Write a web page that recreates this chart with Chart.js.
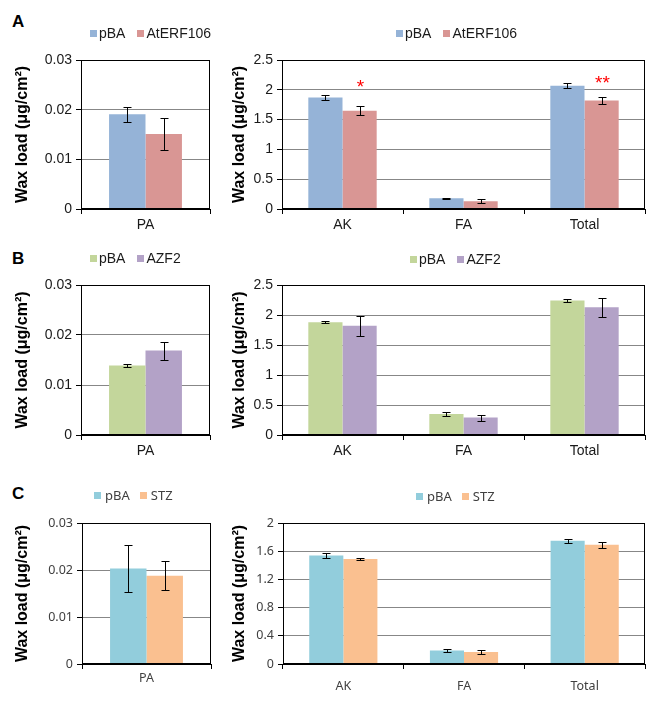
<!DOCTYPE html>
<html lang="en">
<head>
<meta charset="UTF-8">
<title>Wax load</title>
<style>
    body { margin: 0; background: #fff; }
    #page { position: relative; width: 660px; height: 701px; background: #fff; }
    .box { position: absolute; }
    .tag { position: absolute; left: 12px; font: bold 17px "Liberation Sans", Arial, sans-serif; color: #000; line-height: 17px; }
    .legend { position: absolute; display: flex; align-items: center; height: 16px; line-height: 16px; transform: translateY(-50%); white-space: nowrap; }
    .legend .item { display: flex; align-items: center; }
    .legend .swatch { display: inline-block; width: 7px; height: 7px; }
</style>
</head>
<body>
<div id="page">
    <div class="tag" style="top: 13px;">A</div>
    <div class="tag" style="top: 250px;">B</div>
    <div class="tag" style="top: 485px;">C</div>

    <div class="box" style="left: 0; top: 0;"><canvas id="aLeft" width="215" height="240"></canvas></div>
    <div class="box" style="left: 215px; top: 0;"><canvas id="aRight" width="445" height="240"></canvas></div>
    <div class="box" style="left: 0; top: 230px;"><canvas id="bLeft" width="215" height="235"></canvas></div>
    <div class="box" style="left: 215px; top: 230px;"><canvas id="bRight" width="445" height="235"></canvas></div>
    <div class="box" style="left: 0; top: 465px;"><canvas id="cLeft" width="215" height="236"></canvas></div>
    <div class="box" style="left: 215px; top: 465px;"><canvas id="cRight" width="445" height="236"></canvas></div>
</div>

<script src="https://cdn.jsdelivr.net/npm/chart.js"></script>
<script>
    // categories
    const paLabels = ['PA'];
    const waxLabels = ['AK', 'FA', 'Total'];

    // A: pBA vs AtERF106
    const aPbaPA = [0.0191];
    const aPbaPAErr = [0.0015];
    const aErfPA = [0.0151];
    const aErfPAErr = [0.0033];
    const aPba = [1.87, 0.18, 2.07];
    const aPbaErr = [0.04, 0.01, 0.045];
    const aErf = [1.65, 0.13, 1.82];
    const aErfErr = [0.08, 0.03, 0.065];
    const aErfStars = ['*', '', '**'];
    const aErfStarLevel = [2.13, 0, 2.2];   // where the stars sit, in y units

    // B: pBA vs AZF2
    const bPbaPA = [0.0139];
    const bPbaPAErr = [0.0003];
    const bAzfPA = [0.0169];
    const bAzfPAErr = [0.0018];
    const bPba = [1.88, 0.35, 2.24];
    const bPbaErr = [0.02, 0.03, 0.03];
    const bAzf = [1.82, 0.29, 2.13];
    const bAzfErr = [0.17, 0.05, 0.16];

    // C: pBA vs STZ
    const cPbaPA = [0.0203];
    const cPbaPAErr = [0.005];
    const cStzPA = [0.0188];
    const cStzPAErr = [0.0031];
    const cPba = [1.54, 0.19, 1.75];
    const cPbaErr = [0.03, 0.02, 0.03];
    const cStz = [1.49, 0.17, 1.69];
    const cStzErr = [0.02, 0.03, 0.04];

    // y axis ticks
    const paTicks = [0, 0.01, 0.02, 0.03];
    const abTicks = [0, 0.5, 1, 1.5, 2, 2.5];
    const cTicks = [0, 0.4, 0.8, 1.2, 1.6, 2];

    const arial = '"Liberation Sans", Arial, sans-serif';
    const malgun = '"Noto Sans", "Open Sans", sans-serif';

    // error bars + significance stars, drawn from the y scale
    const errorBars = {
        id: 'errorBars',
        afterDatasetsDraw(chart) {
            const ctx = chart.ctx;
            const y = chart.scales.y;
            chart.data.datasets.forEach((ds, i) => {
                chart.getDatasetMeta(i).data.forEach((bar, j) => {
                    const v = ds.data[j];
                    const e = ds.errors[j];
                    const x = Math.round(bar.x) + 0.5;
                    const top = Math.round(y.getPixelForValue(v + e)) + 0.5;
                    const bot = Math.round(y.getPixelForValue(v - e)) + 0.5;
                    ctx.save();
                    ctx.strokeStyle = '#000';
                    ctx.lineWidth = 1;
                    ctx.beginPath();
                    ctx.moveTo(x, top); ctx.lineTo(x, bot);
                    ctx.moveTo(x - 4, top); ctx.lineTo(x + 4, top);
                    ctx.moveTo(x - 4, bot); ctx.lineTo(x + 4, bot);
                    ctx.stroke();
                    if (ds.stars && ds.stars[j]) {
                        // asterisk glyph centre is ~0.58em above the baseline
                        ctx.fillStyle = '#ff0000';
                        ctx.font = '19px ' + arial;
                        ctx.textAlign = 'center';
                        ctx.textBaseline = 'alphabetic';
                        ctx.fillText(ds.stars[j], x, y.getPixelForValue(ds.starLevel[j]) + 11);
                    }
                    ctx.restore();
                });
            });
        }
    };

    // box round the plot area
    const frame = {
        id: 'frame',
        afterDraw(chart) {
            const a = chart.chartArea;
            const ctx = chart.ctx;
            ctx.save();
            ctx.strokeStyle = '#000';
            ctx.lineWidth = 1;
            const l = Math.round(a.left) + 0.5, t = Math.round(a.top) + 0.5;
            const r = Math.round(a.right) - 0.5, b = Math.round(a.bottom) - 0.5;
            ctx.strokeRect(l, t, r - l, b - t);
            ctx.restore();
        }
    };

    // small html legend built from the chart's datasets
    function htmlLegend(chart, cfg) {
        const div = document.createElement('div');
        div.className = 'legend';
        div.style.left = cfg.legendX + 'px';
        div.style.top = cfg.legendY + 'px';
        div.style.font = cfg.legendSize + 'px ' + cfg.font;
        div.style.color = cfg.textColor;
        chart.data.datasets.forEach((ds, i) => {
            const item = document.createElement('span');
            item.className = 'item';
            if (i > 0) item.style.marginLeft = cfg.legendSpace + 'px';
            const sw = document.createElement('span');
            sw.className = 'swatch';
            sw.style.background = ds.backgroundColor;
            sw.style.marginRight = cfg.swatchGap + 'px';
            item.appendChild(sw);
            item.appendChild(document.createTextNode(ds.label));
            div.appendChild(item);
        });
        document.getElementById('page').appendChild(div);
    }

    function tickText(v) {
        return String(Math.round(v * 1000) / 1000);
    }

    function makeChart(id, labels, sets, cfg) {
        const tickFont = { family: cfg.font, size: cfg.tickSize };
        const chart = new Chart(document.getElementById(id), {
            type: 'bar',
            data: {
                labels: labels,
                datasets: sets.map(s => ({
                    label: s.label,
                    data: s.data,
                    errors: s.err,
                    stars: s.stars,
                    starLevel: s.starLevel,
                    backgroundColor: s.color,
                    borderWidth: 0,
                    barPercentage: 1,
                    categoryPercentage: 0.565
                }))
            },
            options: {
                responsive: false,
                animation: false,
                layout: { padding: { top: cfg.padTop, bottom: cfg.padBottom, left: 0, right: cfg.padRight } },
                plugins: {
                    legend: { display: false },
                    tooltip: { enabled: false }
                },
                scales: {
                    x: {
                        grid: { offset: true, drawOnChartArea: false, tickLength: 5, tickColor: '#000' },
                        border: { color: '#000' },
                        ticks: { padding: cfg.xPad, color: cfg.textColor, font: tickFont },
                        afterFit: s => { s.height = 30; }
                    },
                    y: {
                        min: 0,
                        max: cfg.ticks[cfg.ticks.length - 1],
                        afterBuildTicks: s => { s.ticks = cfg.ticks.map(v => ({ value: v })); },
                        ticks: { padding: 4, color: cfg.textColor, font: tickFont, callback: tickText },
                        grid: { color: '#878787', tickLength: 5, tickColor: '#000' },
                        border: { color: '#000' },
                        title: {
                            display: true,
                            text: 'Wax load (μg/cm²)',
                            color: '#000',
                            font: { family: arial, size: 16, weight: 'bold' },
                            padding: { top: cfg.titlePad, bottom: 0 }
                        },
                        afterFit: s => { s.width = cfg.axisWidth; }
                    }
                }
            },
            plugins: [errorBars, frame]
        });
        htmlLegend(chart, cfg);
        return chart;
    }

    const rowA = { font: arial, tickSize: 14, legendSize: 14, textColor: '#1a1a1a', padTop: 60, padBottom: 1, xPad: 3, swatchGap: 2, legendSpace: 12 };
    const rowB = { font: arial, tickSize: 14, legendSize: 14, textColor: '#1a1a1a', padTop: 55, padBottom: 0, xPad: 3, swatchGap: 2, legendSpace: 12 };
    const rowC = { font: malgun, tickSize: 12.5, legendSize: 13, textColor: '#404040', padTop: 58, padBottom: 7, xPad: 2, swatchGap: 4, legendSpace: 10 };

    const left = { axisWidth: 81, padRight: 5, titlePad: 13 };
    const right = { axisWidth: 67, padRight: 15, titlePad: 15 };

    makeChart('aLeft', paLabels, [
        { label: 'pBA', data: aPbaPA, err: aPbaPAErr, color: '#95b3d7' },
        { label: 'AtERF106', data: aErfPA, err: aErfPAErr, color: '#d99694' }
    ], Object.assign({}, rowA, left, { ticks: paTicks, legendX: 90, legendY: 33 }));

    makeChart('aRight', waxLabels, [
        { label: 'pBA', data: aPba, err: aPbaErr, color: '#95b3d7' },
        { label: 'AtERF106', data: aErf, err: aErfErr, stars: aErfStars, starLevel: aErfStarLevel, color: '#d99694' }
    ], Object.assign({}, rowA, right, { ticks: abTicks, legendX: 396, legendY: 33 }));

    makeChart('bLeft', paLabels, [
        { label: 'pBA', data: bPbaPA, err: bPbaPAErr, color: '#c3d69b' },
        { label: 'AZF2', data: bAzfPA, err: bAzfPAErr, color: '#b3a2c7' }
    ], Object.assign({}, rowB, left, { ticks: paTicks, legendX: 90, legendY: 258 }));

    makeChart('bRight', waxLabels, [
        { label: 'pBA', data: bPba, err: bPbaErr, color: '#c3d69b' },
        { label: 'AZF2', data: bAzf, err: bAzfErr, color: '#b3a2c7' }
    ], Object.assign({}, rowB, right, { ticks: abTicks, legendX: 410, legendY: 259 }));

    makeChart('cLeft', paLabels, [
        { label: 'pBA', data: cPbaPA, err: cPbaPAErr, color: '#92cddc' },
        { label: 'STZ', data: cStzPA, err: cStzPAErr, color: '#fac090' }
    ], Object.assign({}, rowC, left, { ticks: paTicks, axisWidth: 82, padRight: 4, legendX: 94, legendY: 495 }));

    makeChart('cRight', waxLabels, [
        { label: 'pBA', data: cPba, err: cPbaErr, color: '#92cddc' },
        { label: 'STZ', data: cStz, err: cStzErr, color: '#fac090' }
    ], Object.assign({}, rowC, right, { ticks: cTicks, axisWidth: 68, xPad: 10, legendX: 416, legendY: 496 }));
</script>
</body>
</html>
